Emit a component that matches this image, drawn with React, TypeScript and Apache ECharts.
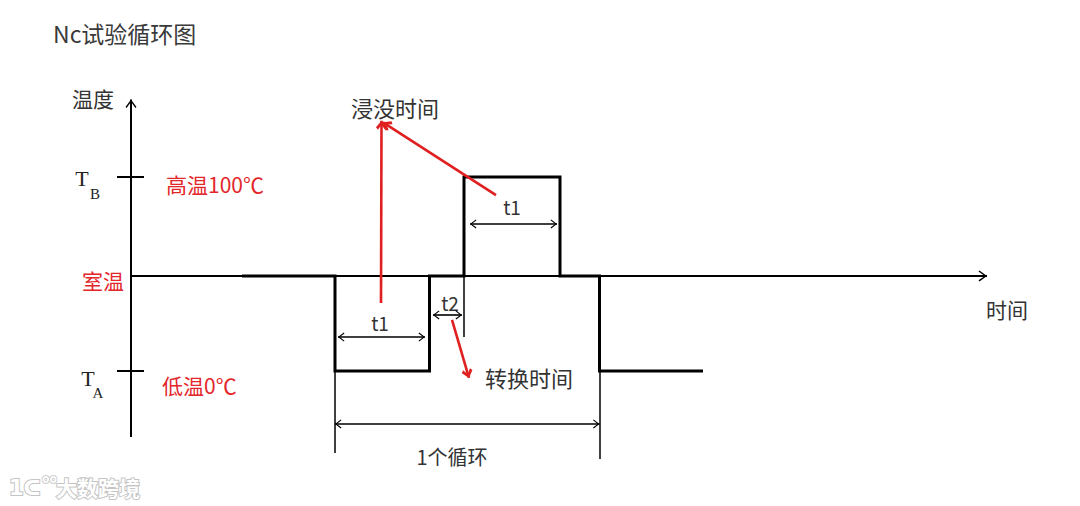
import React, { useEffect, useRef } from 'react';
import * as echarts from 'echarts';

// ---------- data (schematic units: time in arbitrary units, temperature in ℃ scale TA=0, TB=100) ----------
const LOW = 0;      // TA 低温0℃
const ROOM = 49;    // 室温 (schematic position)
const HIGH = 100;   // TB 高温100℃

// Wave: each phase starts at a time and holds a level (step line)
const phaseTimes = [11.1, 20.4, 29.85, 33.3, 42.9, 46.85, 57.2];
const phaseLevels = [ROOM, LOW, ROOM, HIGH, ROOM, LOW, LOW];

// Axes extents
const timeAxisEnd = 85.6;
const tempAxisTop = 140;
const tempAxisBottom = -34;
const tickLevels = [HIGH, LOW];
const tickSpan = [-1.4, 1.3];

// Extension (witness) lines: [time, fromTemp, toTemp]
const extTimes = [20.4, 46.85, 33.3];
const extFrom = [LOW, LOW, ROOM];
const extTo = [-42.3, -45.4, 17.5];

// Dimension arrows: [fromTime, toTime, atTemp]
const dimFrom = [33.9, 20.7, 30.2, 20.4];
const dimTo = [42.6, 29.4, 33.1, 46.85];
const dimAt = [75.8, 17.5, 28.9, -27.3];

// Red annotation arrows: start -> tip
const redStart = [[25.0, 35.0], [36.5, 90.7], [32.1, 26.3]];
const redTip = [[25.05, 129.0], [25.2, 128.2], [33.8, -3.6]];

// Text labels
const labelTitle = 'Nc试验循环图';
const labelYName = '温度';
const labelXName = '时间';
const labelHigh = '高温100℃';
const labelRoom = '室温';
const labelLow = '低温0℃';
const labelSoak = '浸没时间';
const labelTransfer = '转换时间';
const labelCycle = '1个循环';
const labelT1 = 't1';
const labelT2 = 't2';

// ---------- layout ----------
const W = 1080;
const H = 506;
const ORIGIN_X = 131;
const ORIGIN_Y = 371;
const PX_T = 10;
const PX_DEG = 1.94;

const CJK = '"Noto Sans CJK SC", "Noto Sans", sans-serif';
const SERIF = '"Liberation Serif", "DejaVu Serif", serif';
const INK = '#333333';
const RED = '#e3262a';

const V_BLACK = 'path://M5,9 L10,17 L9,18 L5,11.4 L1,18 L0,17 Z M5,0 L5,0.01';
const V_RED = 'path://M5,9 L10,15.6 L8.2,18 L5,13 L1.8,18 L0,15.6 Z M5,0 L5,0.01';

function seg(a: number[], b: number[]) {
  return [{ coord: a }, { coord: b }];
}

function markSeries(name: string, data: any[], symbol: string[], symbolSize: number[], color: string, width: number) {
  return {
    name,
    type: 'line',
    data: [],
    silent: true,
    markLine: {
      silent: true,
      animation: false,
      symbol,
      symbolSize,
      precision: 4,
      label: { show: false },
      emphasis: { disabled: true },
      lineStyle: { color, width, type: 'solid' },
      data,
    },
  };
}

function text(str: string, x: number, y: number, opts: any = {}) {
  return {
    type: 'text',
    x,
    y,
    silent: true,
    style: {
      text: str,
      fill: opts.fill || INK,
      fontSize: opts.size || 20,
      fontFamily: opts.family || CJK,
      fontWeight: opts.weight || 'normal',
      align: opts.align || 'left',
      verticalAlign: 'middle',
      stroke: opts.stroke,
      lineWidth: opts.lineWidth,
    },
  };
}

export default function App() {
  const ref = useRef<HTMLDivElement>(null);

  useEffect(() => {
    if (!ref.current) return;
    const chart = echarts.init(ref.current, null, { renderer: 'svg' });

    const waveData = phaseTimes.map((t, i) => [t, phaseLevels[i]]);

    const axisLines = [
      seg([0, tempAxisBottom], [0, tempAxisTop]),
      seg([0, ROOM], [timeAxisEnd, ROOM]),
    ];
    const ticks = tickLevels.map((lv) => seg([tickSpan[0], lv], [tickSpan[1], lv]));
    const exts = extTimes.map((t, i) => seg([t, extFrom[i]], [t, extTo[i]]));
    const dims = dimAt.map((lv, i) => seg([dimFrom[i], lv], [dimTo[i], lv]));
    const reds = redStart.map((s, i) => seg(s, redTip[i]));

    const wm = { weight: 'bold', fill: '#ffffff', stroke: '#c4c4c4', lineWidth: 2 };

    const option: any = {
      animation: false,
      backgroundColor: '#ffffff',
      grid: { left: 0, right: 0, top: 0, bottom: 0, containLabel: false },
      xAxis: {
        type: 'value',
        min: -ORIGIN_X / PX_T,
        max: (W - ORIGIN_X) / PX_T,
        show: false,
      },
      yAxis: {
        type: 'value',
        min: -(H - ORIGIN_Y) / PX_DEG,
        max: ORIGIN_Y / PX_DEG,
        show: false,
      },
      series: [
        markSeries('axes', axisLines, ['none', V_BLACK], [11, 17], '#000', 2),
        markSeries('ticks', ticks, ['none', 'none'], [1, 1], '#000', 2),
        markSeries('ext', exts, ['none', 'none'], [1, 1], '#000', 1.5),
        markSeries('dims', dims, [V_BLACK, V_BLACK], [9, 13], '#000', 1.6),
        {
          name: 'wave',
          type: 'line',
          step: 'end',
          data: waveData,
          symbol: 'none',
          silent: true,
          z: 4,
          lineStyle: { color: '#000', width: 3, join: 'miter' },
        },
        Object.assign(markSeries('red', reds, ['none', V_RED], [11, 18], '#e02020', 2.6), { z: 5 }),
      ],
      graphic: [
        text(labelTitle, 53, 33, { size: 23, fill: '#3a3a3a' }),
        text(labelYName, 72, 98, { size: 21 }),
        text('T', 82, 178, { family: SERIF, size: 22, align: 'center', fill: '#222' }),
        text('B', 95, 194, { family: SERIF, size: 15, align: 'center', fill: '#222' }),
        text('T', 88, 378, { family: SERIF, size: 22, align: 'center', fill: '#222' }),
        text('A', 98, 393, { family: SERIF, size: 15, align: 'center', fill: '#222' }),
        text(labelHigh, 166, 184, { size: 21, fill: RED }),
        text(labelRoom, 82, 280, { size: 21, fill: RED }),
        text(labelLow, 162, 385, { size: 21, fill: RED }),
        text(labelSoak, 351, 107, { size: 22 }),
        text(labelT1, 512, 206, { size: 19, align: 'center' }),
        text(labelT1, 380, 322, { size: 19, align: 'center' }),
        text(labelT2, 450, 302, { size: 19, align: 'center' }),
        text(labelTransfer, 485, 377, { size: 22 }),
        text(labelXName, 986, 309, { size: 21 }),
        text(labelCycle, 452, 456, { size: 20, align: 'center' }),
        text('大数跨境', 56, 487, Object.assign({ size: 21 }, wm)),
        text('1ᑕ', 9, 488, Object.assign({ size: 21, family: '"DejaVu Sans", sans-serif' }, wm)),
        text('oo', 42, 477, Object.assign({}, wm, { size: 12, lineWidth: 1.5 })),
      ],
    };

    chart.setOption(option);
    return () => chart.dispose();
  }, []);

  return (
    <div
      ref={ref}
      style={{ position: 'absolute', left: 0, top: 0, width: W, height: H, background: '#fff' }}
    />
  );
}
